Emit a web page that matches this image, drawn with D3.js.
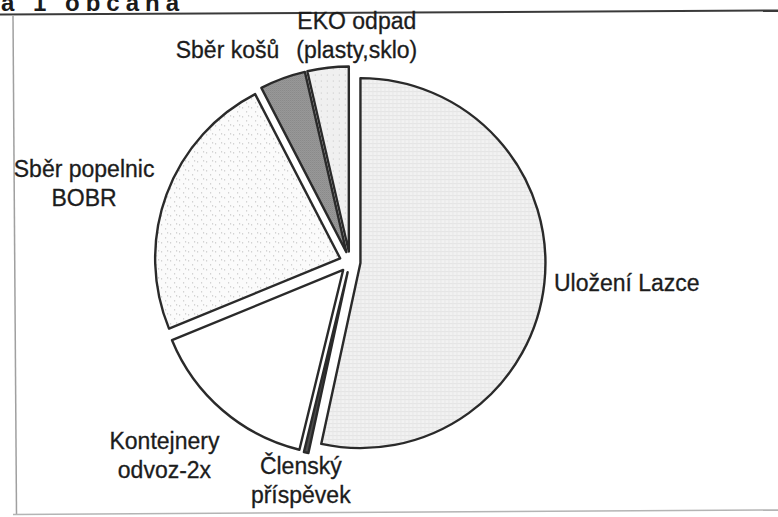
<!DOCTYPE html>
<html>
<head>
<meta charset="utf-8">
<script src="https://cdn.jsdelivr.net/npm/d3@7"></script>
<style>
  html, body { margin: 0; background: #fff; }
  svg { display: block; font-family: "Liberation Sans", Arial, sans-serif; }
</style>
</head>
<body>
<div id="chart"></div>
<script>
// Slices in drawing order (clockwise from 12 o'clock), share of costs in %
const categories = [
  "Uložení Lazce",
  "Členský příspěvek",
  "Kontejnery odvoz-2x",
  "Sběr popelnic BOBR",
  "Sběr košů",
  "EKO odpad (plasty,sklo)",
];
const shares = [53.4, 0.4, 15.0, 23.6, 4.0, 3.6];
const labelLines = [
  ["Uložení Lazce"],
  ["Členský", "příspěvek"],
  ["Kontejnery", "odvoz-2x"],
  ["Sběr popelnic", "BOBR"],
  ["Sběr košů"],
  ["EKO odpad", "(plasty,sklo)"],
];
const titleText = "a 1 občana";

// Fill style per slice (pattern ids or plain colours)
const fills = [
  "url(#pat-grid)",
  "#4d4d4d",
  "#ffffff",
  "url(#pat-dots)",
  "url(#pat-check)",
  "url(#pat-light)",
];
// Hand moves of labels, as when they were dragged in the spreadsheet
const labelNudge = [
  [0, -2],
  [5, -10],
  [-12, 17],
  [-7, 2],
  [0, -7],
  [3, 5],
];

const width = 778;
const height = 517;
const cx = 350;
const cy = 262;
const radius = 185;
const explode = 10.5;
const labelGap = 10;

const svg = d3
  .select("#chart")
  .append("svg")
  .attr("width", width)
  .attr("height", height);

// Patterns imitating the printed hatching
const defs = svg.append("defs");

const grid = defs.append("pattern")
  .attr("id", "pat-grid").attr("patternUnits", "userSpaceOnUse")
  .attr("width", 4).attr("height", 4);
grid.append("rect").attr("width", 4).attr("height", 4).attr("fill", "#f2f2f2");
grid.append("rect").attr("width", 4).attr("height", 1).attr("fill", "#e3e3e3");
grid.append("rect").attr("width", 1).attr("height", 4).attr("fill", "#e7e7e7");

const dots = defs.append("pattern")
  .attr("id", "pat-dots").attr("patternUnits", "userSpaceOnUse")
  .attr("width", 9).attr("height", 9);
dots.append("rect").attr("width", 9).attr("height", 9).attr("fill", "#fbfbfb");
[[1, 2], [5, 6], [7, 1]].forEach(([x, y]) => {
  dots.append("rect").attr("x", x).attr("y", y).attr("width", 1).attr("height", 1).attr("fill", "#b0b0b0");
});

const check = defs.append("pattern")
  .attr("id", "pat-check").attr("patternUnits", "userSpaceOnUse")
  .attr("width", 2).attr("height", 2);
check.append("rect").attr("width", 2).attr("height", 2).attr("fill", "#b0b0b0");
check.append("rect").attr("width", 1).attr("height", 1).attr("fill", "#6e6e6e");
check.append("rect").attr("x", 1).attr("y", 1).attr("width", 1).attr("height", 1).attr("fill", "#7c7c7c");

const light = defs.append("pattern")
  .attr("id", "pat-light").attr("patternUnits", "userSpaceOnUse")
  .attr("width", 6).attr("height", 6);
light.append("rect").attr("width", 6).attr("height", 6).attr("fill", "#f0f0f0");
light.append("rect").attr("x", 2).attr("y", 3).attr("width", 1).attr("height", 1).attr("fill", "#c4c4c4");

// Frame of the scanned page: heading rule, left edge, bottom edge
svg.append("line")
  .attr("x1", 0).attr("y1", 14.5).attr("x2", width).attr("y2", 10.5)
  .attr("stroke", "#3a3a3a").attr("stroke-width", 2);
svg.append("line")
  .attr("x1", 13).attr("y1", 16).attr("x2", 16.5).attr("y2", 514)
  .attr("stroke", "#a0a0a0").attr("stroke-width", 1.5);
svg.append("line")
  .attr("x1", 13).attr("y1", 514.5).attr("x2", width).attr("y2", 510)
  .attr("stroke", "#b4b4b4").attr("stroke-width", 1.5);

// Heading, cut by the top of the scan
svg.append("text")
  .attr("x", 1).attr("y", 11)
  .attr("font-size", 24).attr("font-weight", "bold")
  .attr("letter-spacing", 6)
  .attr("fill", "#1a1a1a")
  .text(titleText);

// Exploded pie
const arcs = d3.pie().sort(null).value((d) => d)(shares);
const arc = d3.arc().innerRadius(0).outerRadius(radius);
const g = svg.append("g").attr("transform", `translate(${cx},${cy})`);

arcs.forEach((a, i) => {
  const mid = (a.startAngle + a.endAngle) / 2;
  const ux = Math.sin(mid);
  const uy = -Math.cos(mid);
  g.append("path")
    .attr("d", arc(a))
    .attr("transform", `translate(${ux * explode},${uy * explode})`)
    .attr("fill", fills[i])
    .attr("stroke", "#2a2a2a")
    .attr("stroke-width", 2.4)
    .attr("stroke-linejoin", "round");
});

// Labels outside each slice, pushed apart if they collide
const labels = arcs.map((a, i) => {
  const mid = (a.startAngle + a.endAngle) / 2;
  const ux = Math.sin(mid);
  const uy = -Math.cos(mid);
  const lg = g.append("g").attr("class", "label");
  const t = lg.append("text")
    .attr("text-anchor", "middle")
    .attr("font-size", 23)
    .attr("fill", "#1c1c1c")
    .attr("stroke", "#1c1c1c")
    .attr("stroke-width", 0.3);
  labelLines[i].forEach((line, k) => {
    t.append("tspan").attr("x", 0).attr("dy", k === 0 ? 0 : 29).text(line);
  });
  const bb = t.node().getBBox();
  const dist = radius + explode + labelGap;
  const boxCx = ux * dist + ux * bb.width / 2;
  const boxCy = uy * dist + uy * bb.height / 2;
  return { lg, bb, x: boxCx, y: boxCy, w: bb.width, h: bb.height };
});

const padX = 14;
const padY = 4;
for (let iter = 0; iter < 10; iter++) {
  for (let i = 0; i < labels.length; i++) {
    for (let j = i + 1; j < labels.length; j++) {
      const a = labels[i];
      const b = labels[j];
      const ox = (a.w + b.w) / 2 + padX - Math.abs(a.x - b.x);
      const oy = (a.h + b.h) / 2 + padY - Math.abs(a.y - b.y);
      if (ox > 0 && oy > 0) {
        const s = a.x < b.x ? -1 : 1;
        a.x += (s * ox) / 2;
        b.x -= (s * ox) / 2;
      }
    }
  }
}

labels.forEach((l, i) => {
  const tx = l.x - (l.bb.x + l.bb.width / 2) + labelNudge[i][0];
  const ty = l.y - (l.bb.y + l.bb.height / 2) + labelNudge[i][1];
  l.lg.attr("transform", `translate(${tx},${ty})`);
});
</script>
</body>
</html>
